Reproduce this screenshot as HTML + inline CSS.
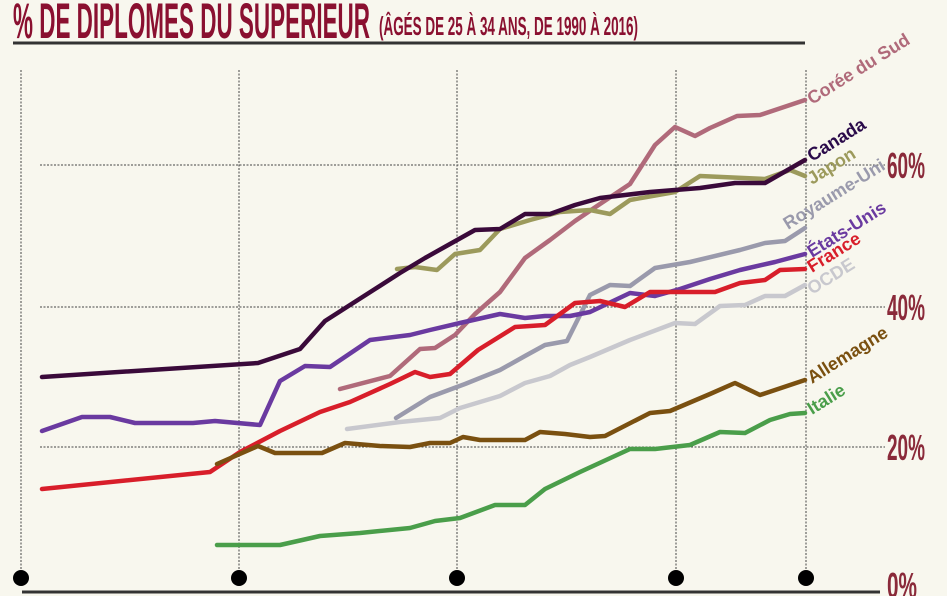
<!DOCTYPE html>
<html><head><meta charset="utf-8"><style>
html,body{margin:0;padding:0;background:#f8f7ee;}
body{width:947px;height:596px;overflow:hidden;position:relative;font-family:"Liberation Sans",sans-serif;}
</style></head><body>
<svg width="947" height="596" viewBox="0 0 947 596" xmlns="http://www.w3.org/2000/svg" style="position:absolute;left:0;top:0">
<rect width="947" height="596" fill="#f8f7ee"/>
<text x="13" y="38" font-family="Liberation Sans" font-weight="bold" font-size="50" fill="#8a1030" textLength="357" lengthAdjust="spacingAndGlyphs">% DE DIPLOMES DU SUPERIEUR</text>
<text x="379" y="35" font-family="Liberation Sans" font-weight="bold" font-size="26" fill="#8a1030" textLength="259" lengthAdjust="spacingAndGlyphs">(ÂGÉS DE 25 À 34 ANS, DE 1990 À 2016)</text>
<line x1="13" y1="43" x2="805" y2="43" stroke="#333" stroke-width="3"/>
<g stroke="#444" stroke-width="1" stroke-dasharray="2,1.5" fill="none">
<line x1="40" y1="165" x2="885" y2="165"/><line x1="40" y1="307" x2="885" y2="307"/><line x1="40" y1="447" x2="885" y2="447"/>
<line x1="21" y1="70" x2="21" y2="578"/><line x1="239" y1="70" x2="239" y2="578"/><line x1="457" y1="70" x2="457" y2="578"/><line x1="676" y1="70" x2="676" y2="578"/><line x1="806" y1="70" x2="806" y2="578"/>
</g>
<g fill="#000"><circle cx="21" cy="578" r="8"/><circle cx="239" cy="578" r="8"/><circle cx="457" cy="578" r="8"/><circle cx="676" cy="578" r="8"/><circle cx="806" cy="578" r="8"/></g>
<line x1="22" y1="592" x2="880" y2="592" stroke="#333" stroke-width="3"/>
<g fill="none" stroke-width="4.5" stroke-linejoin="round" stroke-linecap="round">
<polyline stroke="#c8c8ce" points="347,429 400,422 440,418 460,408 500,396 525,383 550,376 570,365 590,357 630,340 675,323 695,324 720,306 745,305 765,296 785,296 805,285"/>
<polyline stroke="#9a9aac" points="396,418 430,397 465,384 500,370 525,356 545,345 567,341 590,295 610,285 630,286 655,268 690,262 740,250 765,243 785,241 805,228"/>
<polyline stroke="#b06a7a" points="340,389 390,376 420,349 435,348 455,335 475,314 500,292 525,258 550,240 575,221 600,204 630,184 655,145 675,127 695,136 710,128 737,116 760,115 805,100"/>
<polyline stroke="#9c9a5c" points="397,269 415,267 437,270 455,254 480,250 500,229 530,220 560,212 590,210 610,214 630,200 675,192 700,176 765,179 790,170 805,176"/>
<polyline stroke="#3a0a3a" points="42,377 258,363 300,349 325,321 350,305 375,289 400,273 425,258 450,244 475,230 500,229 525,214 550,214 575,205 600,198 625,195 650,192 675,190 700,188 735,183 765,183 805,160"/>
<polyline stroke="#6a3aa0" points="42,431 82,417 110,417 135,423 193,423 215,421 260,425 280,381 305,366 330,367 370,340 410,335 430,330 460,323 500,314 525,318 545,316 570,316 590,312 630,293 655,296 680,289 710,279 740,270 775,262 805,254"/>
<polyline stroke="#d81e2a" points="42,489 210,472 240,452 280,431 320,412 350,402 390,384 415,372 430,377 450,374 478,350 515,327 545,325 575,303 600,301 625,307 650,292 715,292 740,283 765,280 780,270 805,269"/>
<polyline stroke="#7a5010" points="217,464 258,446 275,453 322,453 345,443 380,446 410,447 430,443 450,443 463,437 480,440 525,440 540,432 565,434 590,437 605,436 650,413 670,411 710,394 735,383 760,395 805,380"/>
<polyline stroke="#4a9e4a" points="217,545 280,545 320,536 360,533 410,528 435,521 460,518 495,505 525,505 545,489 580,472 630,449 655,449 690,445 720,432 745,433 770,420 790,414 805,413"/>
</g>
<g font-family="Liberation Sans" font-weight="bold" font-size="18">
<text transform="translate(812,105) rotate(-32)" fill="#b06a7a">Corée du Sud</text>
<text transform="translate(812,162) rotate(-32)" fill="#2a0a4a">Canada</text>
<text transform="translate(812,185) rotate(-32)" fill="#9c9a5c">Japon</text>
<text transform="translate(788,230) rotate(-32)" fill="#9a9aac">Royaume-Uni</text>
<text transform="translate(812,258) rotate(-32)" fill="#6a3aa0">États-Unis</text>
<text transform="translate(812,273) rotate(-32)" fill="#d81e2a">France</text>
<text transform="translate(812,295) rotate(-32)" fill="#c8c8ce">OCDE</text>
<text transform="translate(812,384) rotate(-32)" fill="#7a5010">Allemagne</text>
<text transform="translate(812,415) rotate(-32)" fill="#4a9e4a">Italie</text>
</g>
<g font-family="Liberation Sans" font-weight="bold" font-size="36" fill="#8a2a3a">
<text x="887" y="178" textLength="38" lengthAdjust="spacingAndGlyphs">60%</text>
<text x="887" y="320" textLength="38" lengthAdjust="spacingAndGlyphs">40%</text>
<text x="887" y="460" textLength="38" lengthAdjust="spacingAndGlyphs">20%</text>
<text x="887" y="598" textLength="30" lengthAdjust="spacingAndGlyphs">0%</text>
</g>
</svg>
</body></html>
